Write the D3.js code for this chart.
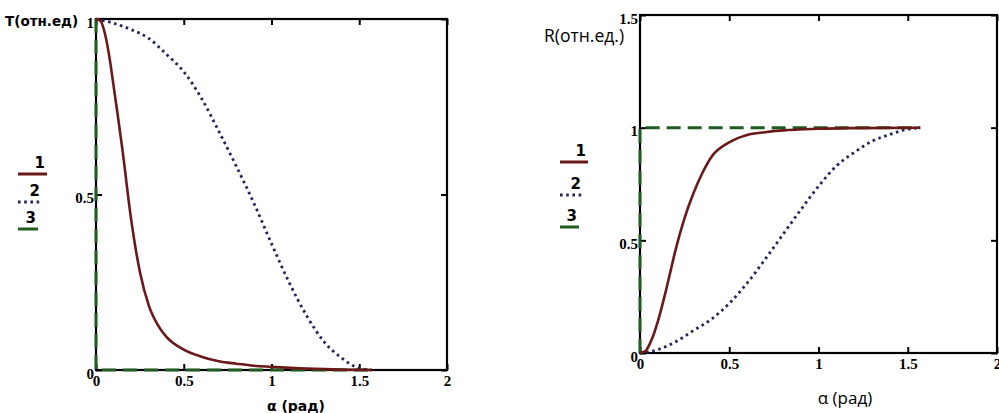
<!DOCTYPE html>
<html>
<head>
<meta charset="utf-8">
<script src="https://cdn.jsdelivr.net/npm/d3@7"></script>
<style>
  body { margin: 0; background: #fff; }
  svg { display: block; }
</style>
</head>
<body>
<div id="chart"></div>
<script>
const width = 999;
const height = 413;

// curve 1 (solid), curve 2 (dotted), curve 3 (dashed)
const alphaT1 = [0, 0.025, 0.05, 0.08, 0.1, 0.12, 0.15, 0.2, 0.25, 0.3, 0.35, 0.4, 0.5, 0.6, 0.7, 0.8, 0.9, 1.0, 1.2, 1.4, 1.57];
const T1 = [1, 0.995, 0.96, 0.88, 0.81, 0.74, 0.63, 0.43, 0.28, 0.185, 0.13, 0.095, 0.058, 0.038, 0.025, 0.018, 0.012, 0.009, 0.004, 0.001, 0];
const alphaT2 = [0, 0.1, 0.2, 0.3, 0.4, 0.5, 0.6, 0.7, 0.8, 0.9, 1.0, 1.1, 1.2, 1.3, 1.4, 1.5, 1.57];
const T2 = [1, 0.988, 0.97, 0.945, 0.9, 0.85, 0.775, 0.68, 0.58, 0.475, 0.36, 0.25, 0.155, 0.08, 0.034, 0.005, 0];
const alphaT3 = [0, 0, 1.57];
const T3 = [1, 0, 0];

const alphaR1 = [0, 0.03, 0.06, 0.08, 0.1, 0.14, 0.17, 0.2, 0.25, 0.3, 0.35, 0.4, 0.5, 0.6, 0.7, 0.8, 1.0, 1.2, 1.57];
const R1 = [0, 0.008, 0.05, 0.09, 0.14, 0.26, 0.36, 0.46, 0.6, 0.71, 0.8, 0.87, 0.935, 0.968, 0.98, 0.988, 0.995, 0.998, 1];
const alphaR2 = [0, 0.1, 0.2, 0.3, 0.4, 0.5, 0.6, 0.7, 0.8, 0.9, 1.0, 1.1, 1.2, 1.3, 1.4, 1.5, 1.57];
const R2 = [0, 0.015, 0.05, 0.1, 0.15, 0.22, 0.31, 0.415, 0.525, 0.635, 0.74, 0.83, 0.89, 0.94, 0.97, 0.993, 1];
const alphaR3 = [0, 0, 1.57];
const R3 = [0, 1, 1];

const legendLabels = ["1", "2", "3"];
const xTicks = [0, 0.5, 1, 1.5, 2];
const yTicksT = [0, 0.5, 1];
const yTicksR = [0, 0.5, 1, 1.5];

const styles = [
  { color: "#6a1818", width: 2.6, dash: null, curve: d3.curveMonotoneX },
  { color: "#24245c", width: 2.8, dash: "2.6,3.6", curve: d3.curveMonotoneX },
  { color: "#1f5c1f", width: 3, dash: "14,7", curve: d3.curveLinear },
];

const svg = d3
  .select("#chart")
  .append("svg")
  .attr("width", width)
  .attr("height", height);

function styleTicks(a) {
  a.select(".domain").remove();
  a.selectAll(".tick line").attr("stroke", "#000").attr("stroke-width", 2);
  a.selectAll(".tick text")
    .attr("fill", "#000")
    .style("font-family", "Liberation Serif, serif")
    .style("font-weight", "bold")
    .style("font-size", "15px");
}

function drawPanel(p) {
  const x = d3.scaleLinear().domain([0, 2]).range([p.left, p.right]);
  const y = d3.scaleLinear().domain([0, p.yMax]).range([p.bottom, p.top]);
  const g = svg.append("g");

  // ticks on all four sides, pointing inward
  g.append("g")
    .attr("transform", `translate(0,${p.bottom})`)
    .call(d3.axisBottom(x).tickValues(xTicks).tickSize(-6).tickPadding(5).tickFormat(d3.format("")))
    .call(styleTicks);
  g.append("g")
    .attr("transform", `translate(0,${p.top})`)
    .call(d3.axisTop(x).tickValues(xTicks).tickSize(-6).tickFormat(""))
    .call(styleTicks);
  g.append("g")
    .attr("transform", `translate(${p.left},0)`)
    .call(d3.axisLeft(y).tickValues(p.yTicks).tickSize(-6).tickPadding(2).tickFormat(d3.format("")))
    .call(styleTicks)
    .call((a) => a.selectAll("text").attr("dy", "0.55em"));
  g.append("g")
    .attr("transform", `translate(${p.right},0)`)
    .call(d3.axisRight(y).tickValues(p.yTicks).tickSize(-6).tickFormat(""))
    .call(styleTicks);

  g.append("rect")
    .attr("x", p.left)
    .attr("y", p.top)
    .attr("width", p.right - p.left)
    .attr("height", p.bottom - p.top)
    .attr("fill", "none")
    .attr("stroke", "#000")
    .attr("stroke-width", 2.2);

  // curves: dashed one first, then dotted, solid on top
  [2, 1, 0].forEach((i) => {
    const s = styles[i];
    const pts = p.series[i][0].map((a, k) => [a, p.series[i][1][k]]);
    g.append("path")
      .datum(pts)
      .attr("fill", "none")
      .attr("stroke", s.color)
      .attr("stroke-width", s.width)
      .attr("stroke-dasharray", s.dash)
      .attr("d", d3.line().x((d) => x(d[0])).y((d) => y(d[1])).curve(s.curve));
  });

  // legend
  legendLabels.forEach((lab, i) => {
    const ly = p.legendY[i];
    g.append("text")
      .attr("x", p.legendX + p.legendLen[i] - 2)
      .attr("y", ly - 6)
      .attr("text-anchor", "end")
      .style("font-family", "DejaVu Sans, sans-serif")
      .style("font-weight", "bold")
      .style("font-size", "15px")
      .text(lab);
    g.append("line")
      .attr("x1", p.legendX)
      .attr("x2", p.legendX + p.legendLen[i])
      .attr("y1", ly)
      .attr("y2", ly)
      .attr("stroke", styles[i].color)
      .attr("stroke-width", 3)
      .attr("stroke-dasharray", i === 1 ? "2.6,3.6" : null);
  });

  g.append("text")
    .attr("x", p.yTitle[0])
    .attr("y", p.yTitle[1])
    .style("font-family", p.titleFont)
    .style("font-weight", p.titleWeight)
    .style("font-size", p.yTitleSize)
    .text(p.yLabel);

  g.append("text")
    .attr("x", p.xTitle[0])
    .attr("y", p.xTitle[1])
    .attr("text-anchor", "middle")
    .style("font-family", p.titleFont)
    .style("font-weight", p.titleWeight)
    .style("font-size", p.xTitleSize)
    .text("α (рад)");
}

drawPanel({
  left: 96, right: 447, top: 19, bottom: 370, yMax: 1,
  yTicks: yTicksT,
  series: [[alphaT1, T1], [alphaT2, T2], [alphaT3, T3]],
  legendX: 18, legendY: [174, 202, 229], legendLen: [29, 24, 20],
  yLabel: "T(отн.ед)", yTitle: [5, 26], yTitleSize: "13.5px",
  xTitle: [296, 411], xTitleSize: "14px",
  titleFont: "DejaVu Sans, sans-serif", titleWeight: "bold",
});

drawPanel({
  left: 640, right: 997, top: 15, bottom: 353, yMax: 1.5,
  yTicks: yTicksR,
  series: [[alphaR1, R1], [alphaR2, R2], [alphaR3, R3]],
  legendX: 560, legendY: [162, 195, 227], legendLen: [28, 23, 19],
  yLabel: "R(отн.ед.)", yTitle: [544, 42], yTitleSize: "17.5px",
  xTitle: [845, 404], xTitleSize: "17px",
  titleFont: "Open Sans, sans-serif", titleWeight: "normal",
});
</script>
</body>
</html>
